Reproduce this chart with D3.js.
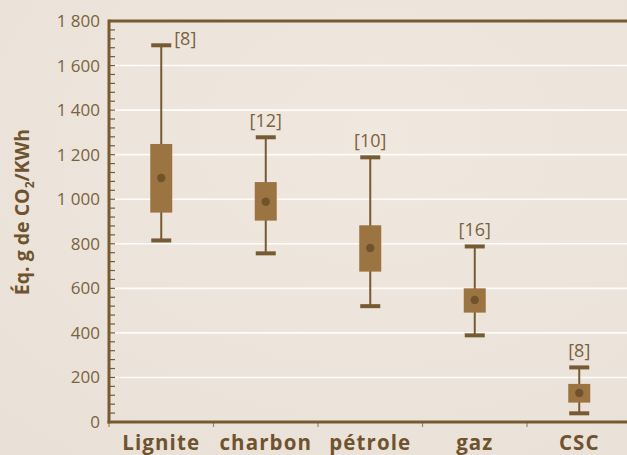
<!DOCTYPE html>
<html><head><meta charset="utf-8">
<script src="https://cdn.jsdelivr.net/npm/d3@7"></script>
<style>
html,body{margin:0;padding:0;background:#ede5dc;}
svg{display:block;}
</style></head>
<body><svg id="c" width="627" height="455"></svg>
<script>
const categories = ["Lignite", "charbon", "pétrole", "gaz", "CSC"];
const counts = ["[8]", "[12]", "[10]", "[16]", "[8]"];
const minVals = [815, 757, 520, 389, 39];
const q1Vals = [940, 904, 675, 491, 87];
const medVals = [1095, 989, 781, 548, 130];
const q3Vals = [1248, 1077, 883, 600, 171];
const maxVals = [1691, 1278, 1188, 788, 245];
const yTicks = [0, 200, 400, 600, 800, 1000, 1200, 1400, 1600, 1800];

(function () {
const svg = d3.select("#c");
const W = 627, H = 455;
const mLeft = 109, mRight = 631.5, mTop = 21, mBottom = 422;
const brown = "#765a32", boxFill = "#9c7441", dotFill = "#6f532d", tickText = "#7a6240", labelText = "#6f532e";
const font = "'Open Sans', 'Noto Sans', sans-serif";

const defs = svg.append("defs");
const lg = defs.append("radialGradient").attr("id","bg").attr("cx","0.6").attr("cy","0.3").attr("r","0.9");
lg.append("stop").attr("offset","0").attr("stop-color","#f0e8df");
lg.append("stop").attr("offset","1").attr("stop-color","#e9e1d7");
svg.append("rect").attr("width",W).attr("height",H).attr("fill","url(#bg)");

const x = d3.scaleBand().domain(categories).range([mLeft, mRight]);
const y = d3.scaleLinear().domain([0, 1800]).range([mBottom, mTop]);

svg.append("g").selectAll("line").data(yTicks.filter(t => t > 0 && t < 1800)).join("line")
  .attr("x1", mLeft).attr("x2", W).attr("y1", d => y(d)).attr("y2", d => y(d))
  .attr("stroke", "#ffffff").attr("stroke-width", 1.6).attr("opacity", 0.9);

svg.append("line").attr("x1", mLeft).attr("x2", W).attr("y1", y(1800)).attr("y2", y(1800))
  .attr("stroke", brown).attr("stroke-width", 3);

const yAxis = d3.axisLeft(y).tickValues(yTicks).tickSize(0).tickPadding(9)
  .tickFormat(d => d3.format(",")(d).replace(",", "\u00a0"));
const gy = svg.append("g").attr("transform", `translate(${mLeft},0)`).call(yAxis);
gy.select(".domain").remove();
gy.selectAll("text").attr("font-family", font).attr("font-size", 17).attr("fill", tickText);
const minor = d3.range(0, 1800, 40).slice(1);
svg.append("g").selectAll("line").data(minor).join("line")
  .attr("x1", mLeft).attr("x2", mLeft + 6).attr("y1", d => y(d)).attr("y2", d => y(d))
  .attr("stroke", brown).attr("stroke-width", 1.2);
svg.append("line").attr("x1", mLeft).attr("x2", mLeft).attr("y1", mTop - 1.5).attr("y2", mBottom + 1.5)
  .attr("stroke", brown).attr("stroke-width", 3);

const xAxis = d3.axisBottom(x).tickSize(0).tickPadding(0);
const gx = svg.append("g").attr("transform", `translate(0,${mBottom})`).call(xAxis);
gx.select(".domain").remove();
gx.selectAll("text").attr("y", 27.5).attr("dy", null).attr("font-family", font).attr("font-size", 20.5)
  .attr("font-weight", "bold").attr("letter-spacing", 1.1).attr("fill", labelText);
svg.append("g").selectAll("line").data(categories).join("line")
  .attr("x1", d => x(d)).attr("x2", d => x(d)).attr("y1", mBottom).attr("y2", mBottom + 5)
  .attr("stroke", "#9a8566").attr("stroke-width", 1.2);
svg.append("line").attr("x1", mLeft - 1.5).attr("x2", W).attr("y1", mBottom).attr("y2", mBottom)
  .attr("stroke", brown).attr("stroke-width", 3);

svg.append("text").attr("transform", "translate(29,212) rotate(-90)")
  .attr("text-anchor", "middle").attr("font-family", font).attr("font-size", 19.5).attr("font-weight", "bold")
  .attr("fill", labelText)
  .html('Éq. g de CO<tspan font-size="12" dy="5">2</tspan><tspan dy="-5">/KWh</tspan>');

const data = categories.map((c, i) => ({c, n: counts[i], min: minVals[i], q1: q1Vals[i], med: medVals[i], q3: q3Vals[i], max: maxVals[i]}));
const g = svg.append("g").selectAll("g").data(data).join("g")
  .attr("transform", d => `translate(${x(d.c) + x.bandwidth() / 2},0)`);
g.append("line").attr("x1", 0).attr("x2", 0).attr("y1", d => y(d.max)).attr("y2", d => y(d.min))
  .attr("stroke", brown).attr("stroke-width", 2);
g.append("rect").attr("x", -10).attr("width", 20).attr("y", d => y(d.max) - 2).attr("height", 4).attr("fill", brown);
g.append("rect").attr("x", -10).attr("width", 20).attr("y", d => y(d.min) - 2).attr("height", 4).attr("fill", brown);
g.append("rect").attr("x", -11).attr("width", 22).attr("y", d => y(d.q3)).attr("height", d => y(d.q1) - y(d.q3))
  .attr("fill", boxFill);
g.append("circle").attr("cx", 0).attr("cy", d => y(d.med)).attr("r", 4.2).attr("fill", dotFill);
const crowded = d => y(d.max) - 30 < mTop;
g.append("text")
  .attr("x", d => crowded(d) ? 24 : 0)
  .attr("y", d => crowded(d) ? y(d.max) : y(d.max) - 10)
  .attr("text-anchor", "middle").attr("font-family", font).attr("font-size", 18)
  .attr("fill", tickText).text(d => d.n);
})();
</script></body></html>
